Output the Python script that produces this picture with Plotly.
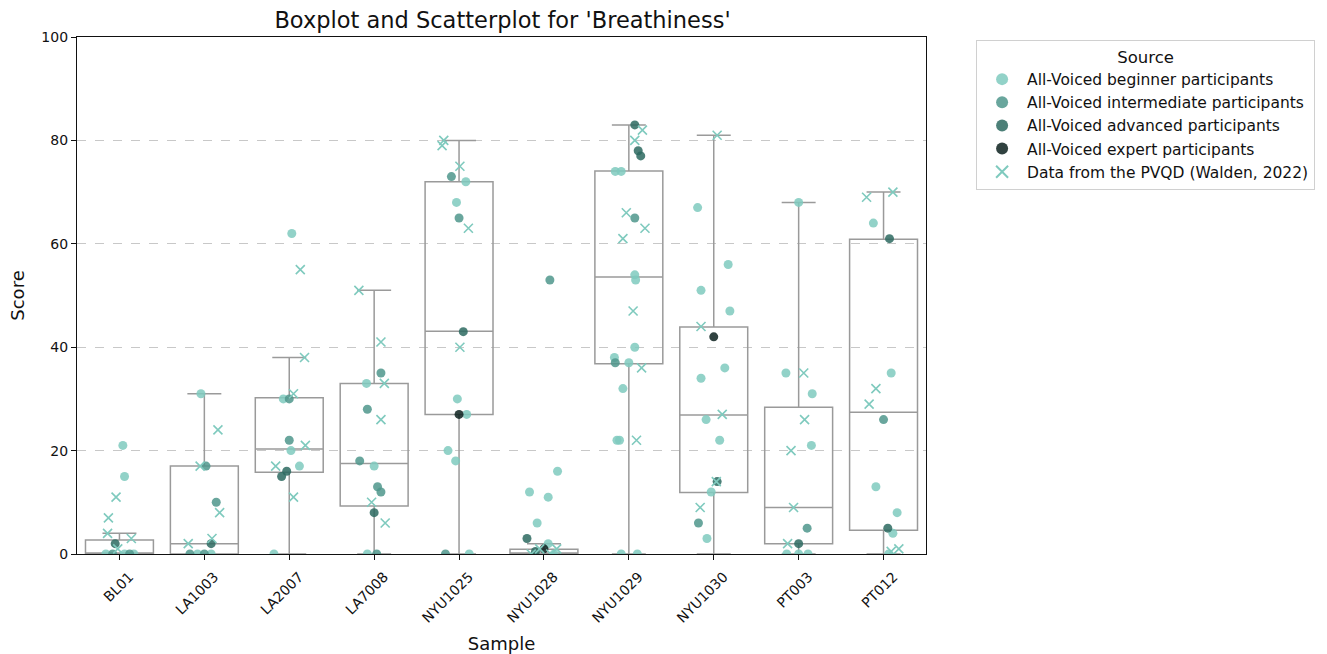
import plotly.graph_objects as go

samples = ["BL01", "LA1003", "LA2007", "LA7008", "NYU1025", "NYU1028",
           "NYU1029", "NYU1030", "PT003", "PT012"]

# Box statistics (per sample)
box_q1 = [0, 0, 15.8, 9.3, 27, 0, 36.8, 11.9, 2, 4.6]
box_median = [0, 2, 20.3, 17.5, 43.1, 0, 53.6, 26.9, 9, 27.4]
box_q3 = [2.7, 17, 30.2, 33, 72, 0.9, 74.1, 43.9, 28.4, 60.9]
box_low = [0, 0, 0, 0, 0, 0, 0, 0, 0, 0]
box_high = [4, 31, 38, 51, 80, 2, 83, 81, 68, 70]

# Points: sample index, jitter (category units), score
beginner_sample = [0, 0, 0, 0, 0,
                   1, 1, 1,
                   2, 2, 2, 2, 2,
                   3, 3, 3,
                   4, 4, 4, 4, 4, 4, 4,
                   5, 5, 5, 5, 5, 5,
                   6, 6, 6, 6, 6, 6, 6, 6, 6, 6, 6, 6,
                   7, 7, 7, 7, 7, 7, 7, 7, 7, 7,
                   8, 8, 8, 8, 8, 8, 8,
                   9, 9, 9, 9, 9, 9]
beginner_jitter = [0.04, 0.06, -0.16, 0.06, 0.17,
                   -0.04, -0.08, 0.08,
                   0.03, -0.07, 0.02, 0.12, -0.18,
                   -0.09, 0.0, -0.08,
                   0.08, -0.03, -0.02, 0.09, -0.13, -0.04, 0.12,
                   0.16, -0.17, 0.05, -0.08, 0.05, 0.12,
                   -0.16, -0.09, 0.07, 0.08, 0.07, -0.17, 0.0, -0.07, -0.14, -0.11, -0.09, 0.10,
                   -0.19, 0.17, -0.15, 0.19, 0.13, -0.15, -0.09, 0.07, -0.03, -0.08,
                   0.0, -0.15, 0.16, 0.15, -0.14, 0.0, 0.11,
                   -0.12, 0.09, -0.09, 0.16, 0.11, 0.06]
beginner_score = [21, 15, 0, 0, 0,
                  31, 0, 0,
                  62, 30, 20, 17, 0,
                  33, 17, 0,
                  72, 68, 30, 27, 20, 18, 0,
                  16, 12, 11, 6, 2, 0,
                  74, 74, 54, 53, 40, 38, 37, 32, 22, 22, 0, 0,
                  67, 56, 51, 47, 36, 34, 26, 22, 12, 3,
                  68, 35, 31, 21, 0, 0, 0,
                  64, 35, 13, 8, 4, 0]

intermediate_sample = [0, 0, 1, 1, 1, 1, 2, 2, 3, 3, 3, 3, 3, 3, 4, 4, 4, 5, 6, 6, 7, 8, 9]
intermediate_jitter = [-0.08, 0.12, 0.02, 0.14, -0.17, 0.0, 0.0, 0.0, 0.08, -0.08, -0.17,
                       0.04, 0.08, 0.03, -0.09, 0.0, -0.16, 0.07, 0.07, -0.16, -0.18, 0.10, 0.0]
intermediate_score = [0, 0, 17, 10, 0, 0, 30, 22, 35, 28, 18, 13, 12, 0, 73, 65, 0, 53, 65, 37,
                      6, 5, 26]

advanced_sample = [0, 1, 2, 2, 3, 4, 5, 5, 6, 6, 6, 7, 8, 9, 9]
advanced_jitter = [-0.05, 0.08, -0.03, -0.09, 0.0, 0.05, -0.2, -0.1, 0.07, 0.11, 0.14, 0.04,
                   0.0, 0.07, 0.05]
advanced_score = [2, 2, 16, 15, 8, 43, 3, 0.5, 83, 78, 77, 14, 2, 61, 5]

expert_sample = [4, 5, 7]
expert_jitter = [0.0, 0.0, 0.0]
expert_score = [27, 1, 42]

pvqd_sample = [0, 0, 0, 0, 0,
               1, 1, 1, 1, 1,
               2, 2, 2, 2, 2, 2,
               3, 3, 3, 3, 3, 3,
               4, 4, 4, 4, 4,
               5, 5, 5, 5,
               6, 6, 6, 6, 6, 6, 6, 6,
               7, 7, 7, 7, 7,
               8, 8, 8, 8, 8,
               9, 9, 9, 9, 9, 9]
pvqd_jitter = [-0.04, -0.13, -0.14, 0.14, -0.02,
               0.16, -0.05, 0.18, 0.09, -0.19,
               0.13, 0.18, 0.05, 0.19, -0.16, 0.05,
               -0.18, 0.08, 0.12, 0.08, -0.03, 0.13,
               -0.18, -0.2, 0.01, 0.11, 0.01,
               -0.15, -0.05, 0.08, 0.15,
               0.16, 0.07, -0.03, 0.19, -0.07, 0.05, 0.15, 0.09,
               0.04, -0.15, 0.10, 0.03, -0.16,
               0.06, 0.07, -0.09, -0.06, -0.13,
               -0.2, 0.11, -0.09, -0.17, 0.18, 0.09]
pvqd_score = [11, 7, 4, 3, 1,
              24, 17, 8, 3, 2,
              55, 38, 31, 21, 17, 11,
              51, 41, 33, 26, 10, 6,
              80, 79, 75, 63, 40,
              0, 1, 0, 1,
              82, 80, 66, 63, 61, 47, 36, 22,
              81, 44, 27, 14, 9,
              35, 26, 20, 9, 2,
              69, 70, 32, 29, 1, 0.5]

colors = {
    "beginner": "#7fcabe",
    "intermediate": "#4f968c",
    "advanced": "#2d6a60",
    "expert": "#0c211e",
}

fig = go.Figure()

fig.add_trace(go.Box(
    x=list(range(len(samples))),
    q1=box_q1, median=box_median, q3=box_q3,
    lowerfence=box_low, upperfence=box_high,
    width=0.8, whiskerwidth=0.5,
    fillcolor="rgba(255,255,255,0)",
    line=dict(color="#9a9a9a", width=1.5),
    showlegend=False, hoverinfo="skip",
))

def xs(sample, jitter):
    return [s + j for s, j in zip(sample, jitter)]

groups = [
    ("All-Voiced beginner participants", beginner_sample, beginner_jitter, beginner_score, colors["beginner"]),
    ("All-Voiced intermediate participants", intermediate_sample, intermediate_jitter, intermediate_score, colors["intermediate"]),
    ("All-Voiced advanced participants", advanced_sample, advanced_jitter, advanced_score, colors["advanced"]),
    ("All-Voiced expert participants", expert_sample, expert_jitter, expert_score, colors["expert"]),
]
for name, s, j, v, c in groups:
    fig.add_trace(go.Scatter(
        x=xs(s, j), y=v, mode="markers", name=name,
        marker=dict(color=c, size=9, opacity=0.85, line=dict(width=0)),
    ))

fig.add_trace(go.Scatter(
    x=xs(pvqd_sample, pvqd_jitter), y=pvqd_score, mode="markers",
    name="Data from the PVQD (Walden, 2022)",
    marker=dict(symbol="x-thin", size=9, color=colors["beginner"],
                line=dict(color=colors["beginner"], width=1.6)),
))

fig.update_layout(
    width=1327, height=654,
    margin=dict(l=77, r=399, t=37, b=100),
    paper_bgcolor="white", plot_bgcolor="white",
    font=dict(family="DejaVu Sans", size=14, color="#111"),
    title=dict(text="Boxplot and Scatterplot for 'Breathiness'",
               x=(77 + 928) / 2 / 1327, xanchor="center", y=1 - 20 / 654,
               yref="container", yanchor="middle",
               font=dict(size=22.5, color="#111")),
    showlegend=True,
    legend=dict(
        x=1.059, xanchor="left", y=0.994, yanchor="top",
        bordercolor="#d0d0d0", borderwidth=1, bgcolor="white",
        font=dict(size=15.5, color="#111"),
        title=dict(text="Source", side="top center", font=dict(size=16.5)),
        tracegroupgap=0, itemsizing="constant", itemwidth=40,
    ),
)

fig.update_xaxes(
    range=[-0.5, 9.5], tickmode="array", tickvals=list(range(len(samples))),
    ticktext=samples, tickangle=-45, ticks="outside", ticklen=5, tickcolor="#111",
    showline=True, linecolor="#111", linewidth=1.2, mirror=True, showgrid=False,
    zeroline=False, tickfont=dict(size=14), ticklabelshift=10, ticklabelstandoff=3,
    automargin=False,
    title=dict(text="Sample", font=dict(size=18), standoff=12),
)
fig.update_yaxes(
    range=[0, 100], tickvals=[0, 20, 40, 60, 80, 100], ticks="outside", ticklen=5,
    tickcolor="#111", showline=True, linecolor="#111", linewidth=1.2, mirror=True,
    showgrid=True, gridcolor="#c8c8c8", griddash="dash", gridwidth=1,
    zeroline=False, tickfont=dict(size=14), automargin=False,
    title=dict(text="Score", font=dict(size=18), standoff=12),
)

fig.write_html("out.html", config={"displayModeBar": False},
               post_script="document.body.style.margin='0';document.body.style.overflow='hidden';")
